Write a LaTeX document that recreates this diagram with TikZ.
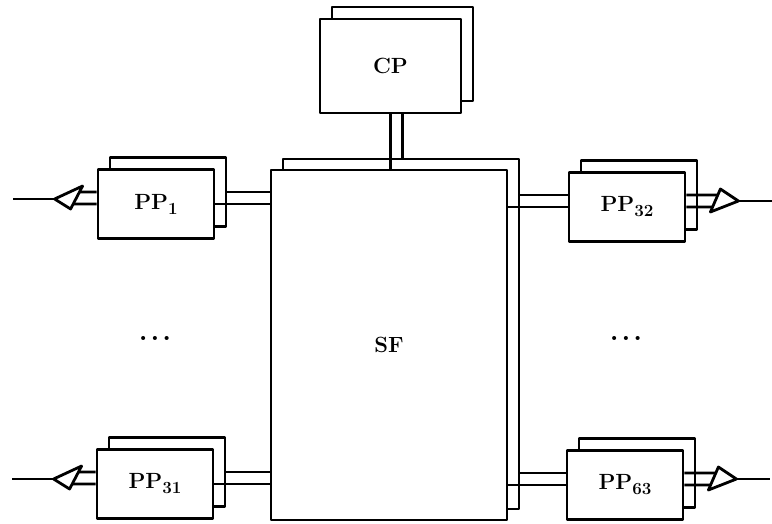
\documentclass[tikz,border=0pt]{standalone}
\usetikzlibrary{calc}
\newcommand{\ppsub}[1]{\raisebox{-5pt}{\fontsize{17}{20}\selectfont #1}}
\begin{document}
\begin{tikzpicture}[x=1pt,y=-1pt, line width=2.8pt, line join=round,
  lbl/.style={font=\fontsize{22}{26}\selectfont\bfseries},
  box/.style={draw, fill=white, rectangle, inner sep=0pt, minimum width=116pt, minimum height=69pt, lbl},
  backbox/.style={draw, fill=white, rectangle, inner sep=0pt, minimum width=116pt, minimum height=69pt},
  dots/.style={font=\fontsize{28}{32}\selectfont\bfseries}]
\useasboundingbox (0,0) rectangle (772,523);
% positions of front boxes
\coordinate (cCP) at (390.5,66);
\coordinate (cSF) at (389,345);
\coordinate (c1) at (156,204);
\coordinate (c31) at (155,484);
\coordinate (c32) at (627,207);
\coordinate (c63) at (625,485);
% back boxes
\node[backbox, minimum width=141pt, minimum height=94pt] (cpb) at ($(cCP)+(12,-12)$) {};
\node[backbox, minimum width=236pt, minimum height=350pt] (sfb) at ($(cSF)+(12,-11)$) {};
\node[backbox] (pp1b) at ($(c1)+(12,-12)$) {};
\node[backbox] (pp31b) at ($(c31)+(12,-12)$) {};
\node[backbox] (pp32b) at ($(c32)+(12,-12)$) {};
\node[backbox] (pp63b) at ($(c63)+(12,-12)$) {};
% front boxes
\node[box, minimum width=141pt, minimum height=94pt] (cp) at (cCP) {CP};
\node[box, minimum width=236pt, minimum height=350pt] (sf) at (cSF) {SF};
\node[box] (pp1) at (c1) {PP\ppsub{1}};
\node[box] (pp31) at (c31) {PP\ppsub{31}};
\node[box] (pp32) at (c32) {PP\ppsub{32}};
\node[box] (pp63) at (c63) {PP\ppsub{63}};
% dots
\node[dots] (dl) at (155,338) {.\hspace{3pt}.\hspace{3pt}.};
\node[dots] (dr) at (626,338) {.\hspace{3pt}.\hspace{3pt}.};
% CP to SF
\draw (cp.south) -- (cp.south |- sf.north);
\coordinate (cpr) at ([xshift=12pt]cp.south);
\draw (cpr) -- (cpr |- sfb.north);
% left PPs
\foreach \n in {pp1,pp31}{
  \draw (\n b.east) -- (\n b.east -| sf.west);
  \draw (\n.east) -- (\n.east -| sf.west);
  \coordinate (\n bt) at ($(\n.west)+(-14,-18)$);
  \coordinate (\n bb) at ($(\n.west)+(-26,5)$);
  \coordinate (\n tip) at ($(\n.west)+(-42,-5)$);
  \coordinate (\n end) at ($(\n tip)+(-42,0)$);
  \coordinate (\n up) at ([yshift=12pt]\n.west);
  \draw (\n bt) -- (\n tip) -- (\n bb) -- cycle;
  \draw (\n up) -- ($(\n bt)!0.26!(\n bb)$);
  \draw (\n.west) -- ($(\n bt)!0.78!(\n bb)$);
  \draw (\n tip) -- (\n end);
}
% right PPs
\foreach \n in {pp32,pp63}{
  \coordinate (\n lu) at ([yshift=12pt]\n.west);
  \draw (\n lu) -- (\n lu -| sfb.east);
  \draw (\n.west) -- (\n.west -| sf.east);
  \coordinate (\n bt) at ($(\n.east)+(34,-18)$);
  \coordinate (\n bb) at ($(\n.east)+(24,5)$);
  \coordinate (\n tip) at ($(\n.east)+(52,-6)$);
  \coordinate (\n end) at ($(\n tip)+(34,0)$);
  \coordinate (\n up) at ([yshift=12pt]\n.east);
  \draw (\n bt) -- (\n tip) -- (\n bb) -- cycle;
  \draw (\n up) -- ($(\n bt)!0.26!(\n bb)$);
  \draw (\n.east) -- ($(\n bt)!0.78!(\n bb)$);
  \draw (\n tip) -- (\n end);
}
\end{tikzpicture}
\end{document}
